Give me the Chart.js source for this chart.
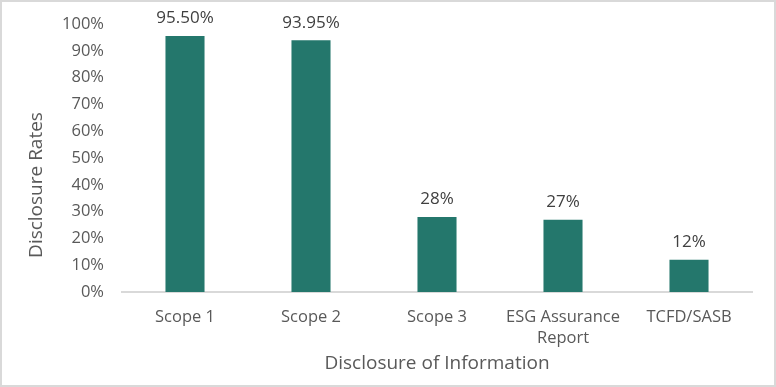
<!DOCTYPE html>
<html>
<head>
<meta charset="utf-8">
<script src="https://cdn.jsdelivr.net/npm/chart.js@4"></script>
<style>
  html, body { margin: 0; padding: 0; background: #fff; }
  #wrap { width: 772px; height: 383px; border: 2px solid #d9d9d9; position: relative; }
</style>
</head>
<body>
<div id="wrap"><canvas id="c" width="772" height="383"></canvas></div>
<script>
/* --- Data --- */
var categories = ['Scope 1', 'Scope 2', 'Scope 3', ['ESG Assurance', 'Report'], 'TCFD/SASB'];
var rates = [95.5, 93.95, 28, 27, 12];
var rateLabels = ['95.50%', '93.95%', '28%', '27%', '12%'];
var yTitle = 'Disclosure Rates';
var xTitle = 'Disclosure of Information';

var FONT = "'Open Sans', 'Liberation Sans', sans-serif";
var TXT = '#595959';

/* --- Value labels above bars + y title (sits lower than Chart.js would centre it) --- */
var valueLabels = {
  id: 'valueLabels',
  afterDatasetsDraw: function(chart) {
    var meta = chart.getDatasetMeta(0);
    var ctx = chart.ctx;
    ctx.save();
    ctx.font = '17px ' + FONT;
    ctx.fillStyle = '#404040';
    ctx.textAlign = 'center';
    ctx.textBaseline = 'bottom';
    for (var i = 0; i < meta.data.length; i++) {
      var bar = meta.data[i];
      ctx.fillText(rateLabels[i], bar.x, bar.y - 9);
    }
    ctx.restore();

    ctx.save();
    ctx.font = '19px ' + FONT;
    ctx.fillStyle = TXT;
    ctx.textAlign = 'center';
    ctx.textBaseline = 'middle';
    ctx.translate(35, 183);
    ctx.rotate(-Math.PI / 2);
    ctx.fillText(yTitle, 0, 0);
    ctx.restore();
  }
};

new Chart(document.getElementById('c'), {
  type: 'bar',
  data: {
    labels: categories,
    datasets: [{
      data: rates,
      backgroundColor: '#24776C',
      categoryPercentage: 1,
      barPercentage: 0.31
    }]
  },
  options: {
    responsive: false,
    animation: false,
    layout: { padding: { top: 22, right: 22, left: 25, bottom: 10 } },
    plugins: { legend: { display: false }, tooltip: { enabled: false } },
    scales: {
      x: {
        grid: { display: false, drawTicks: false },
        border: { color: '#d9d9d9', width: 2 },
        ticks: { color: TXT, font: { size: 16.5, family: FONT, lineHeight: 1.25 }, padding: 15, maxRotation: 0 },
        title: { display: true, text: xTitle, color: TXT, font: { size: 19, family: FONT }, padding: { top: 0, bottom: 0 } },
        afterFit: function(s) { s.height = 83; }
      },
      y: {
        min: 0,
        max: 100,
        grid: { display: false, drawTicks: false },
        border: { display: false },
        ticks: {
          stepSize: 10,
          color: TXT,
          font: { size: 16.5, family: FONT },
          padding: 18,
          callback: function(v) { return v + '%'; }
        },
        afterFit: function(s) { s.width = 95; s.paddingTop = 0; s.paddingBottom = 0; }
      }
    }
  },
  plugins: [valueLabels]
});
</script>
</body>
</html>
